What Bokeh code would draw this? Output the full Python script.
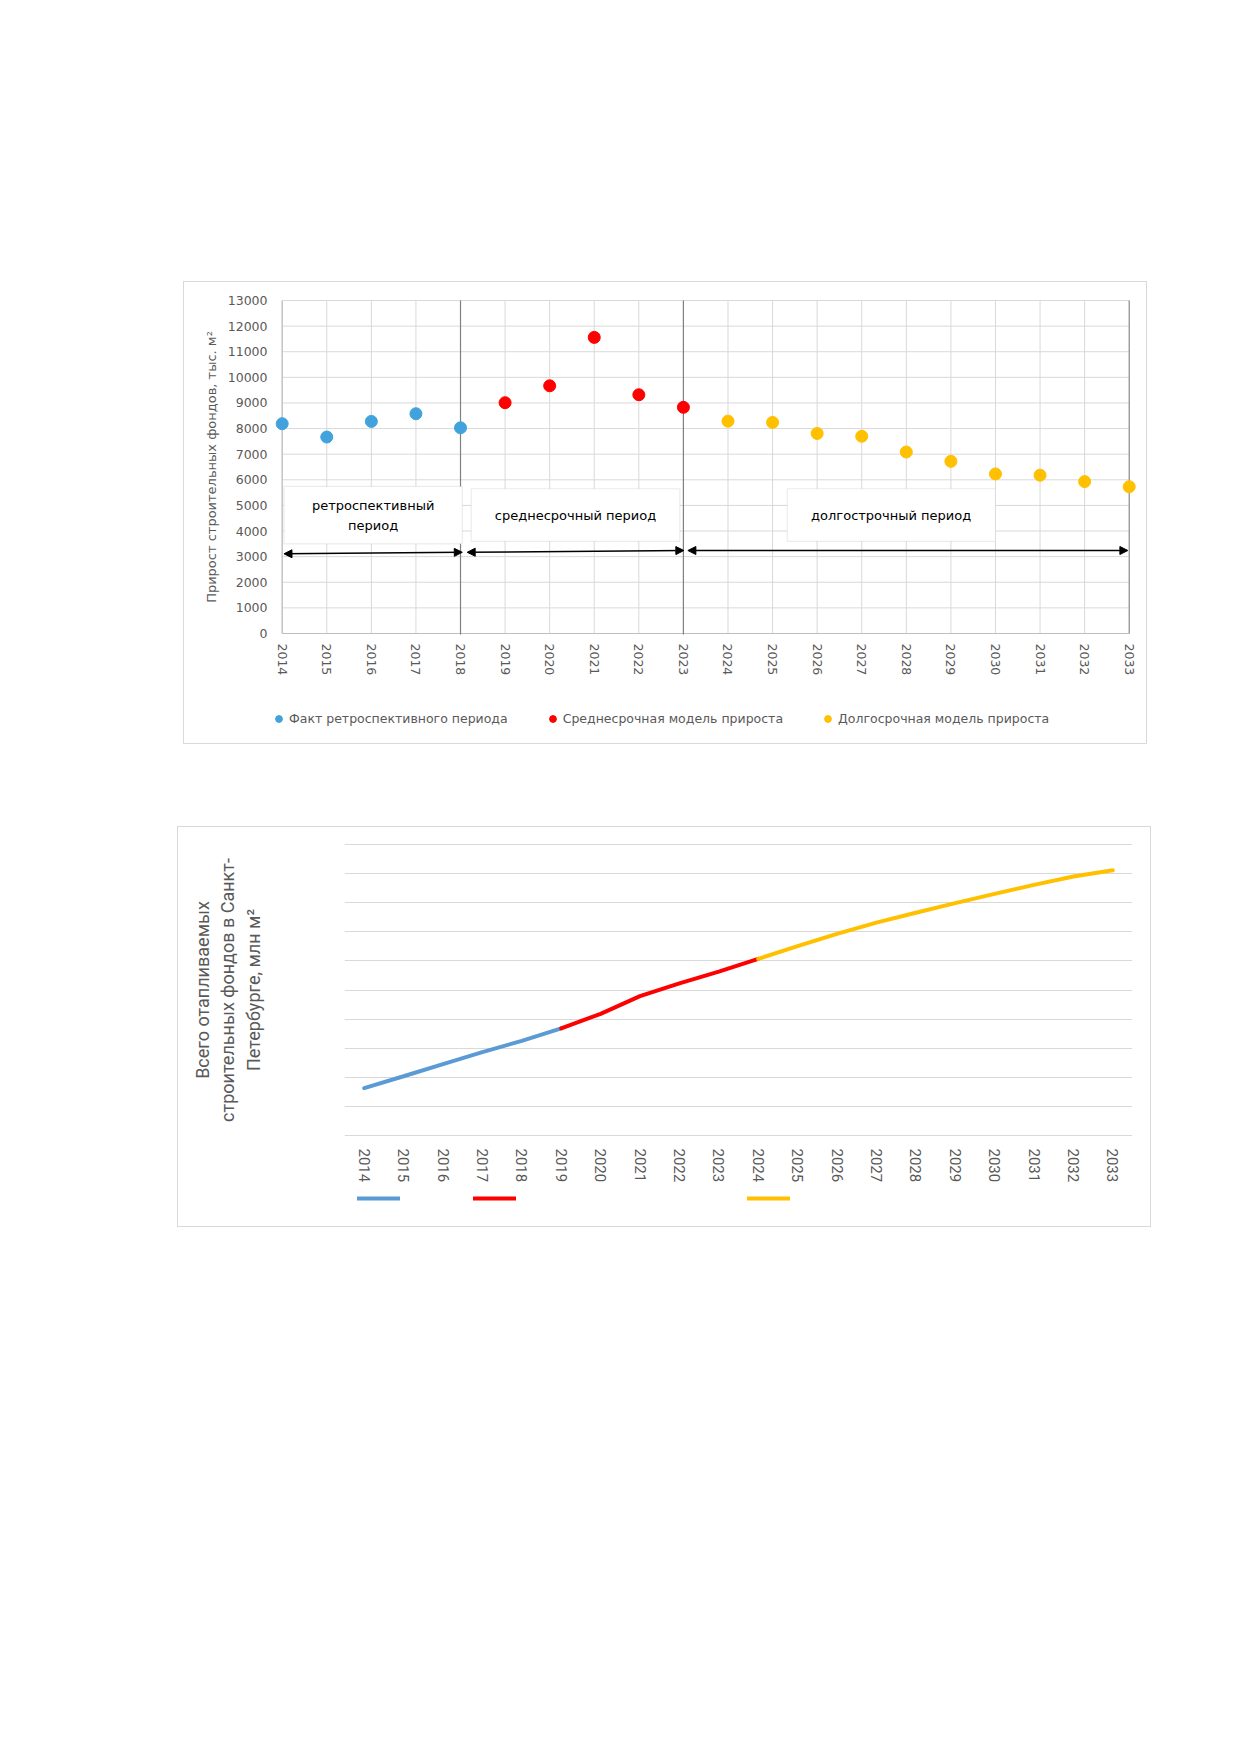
from bokeh.plotting import figure
from bokeh.models import (Range1d, FixedTicker, Legend, LegendItem, BoxAnnotation,
                          Label, Arrow, NormalHead, Spacer, FactorRange)
from bokeh.layouts import column, row
from bokeh.embed import file_html
from bokeh.resources import INLINE
from bokeh.core.properties import value

# ---------------- Chart 1 data ----------------
years_retro = [2014, 2015, 2016, 2017, 2018]
growth_retro = [8190, 7670, 8280, 8580, 8030]
years_mid = [2019, 2020, 2021, 2022, 2023]
growth_mid = [9010, 9670, 11560, 9320, 8830]
years_long = [2024, 2025, 2026, 2027, 2028, 2029, 2030, 2031, 2032, 2033]
growth_long = [8290, 8240, 7810, 7700, 7085, 6720, 6230, 6180, 5930, 5730]
year_ticks = [2014, 2015, 2016, 2017, 2018, 2019, 2020, 2021, 2022, 2023,
              2024, 2025, 2026, 2027, 2028, 2029, 2030, 2031, 2032, 2033]
y_ticks = [0, 1000, 2000, 3000, 4000, 5000, 6000, 7000, 8000, 9000, 10000,
           11000, 12000, 13000]
period_bounds = [2018, 2023]
series_names = ["Факт ретроспективного периода", "Среднесрочная модель прироста",
                "Долгосрочная модель прироста"]
y_title1 = "Прирост строительных фондов, тыс. м²"

# ---------------- Chart 2 data ----------------
cats2 = ["2014", "2015", "2016", "2017", "2018", "2019", "2020", "2021", "2022", "2023",
         "2024", "2025", "2026", "2027", "2028", "2029", "2030", "2031", "2032", "2033"]
years2_retro = ["2014", "2015", "2016", "2017", "2018", "2019"]
total_retro = [1.62, 2.03, 2.45, 2.86, 3.25, 3.68]
years2_mid = ["2019", "2020", "2021", "2022", "2023", "2024"]
total_mid = [3.68, 4.18, 4.79, 5.23, 5.63, 6.07]
years2_long = ["2024", "2025", "2026", "2027", "2028", "2029", "2030", "2031", "2032", "2033"]
total_long = [6.07, 6.51, 6.93, 7.32, 7.66, 7.99, 8.31, 8.62, 8.91, 9.12]
grid2_ticks = [0, 1, 2, 3, 4, 5, 6, 7, 8, 9, 10]
y_title2 = "Всего отапливаемых\nстроительных фондов в Санкт-\nПетербурге, млн м²"

GRAY_TXT = "#595959"
GRID = "#d9d9d9"
F1 = "DejaVu Sans"
F2 = "Roboto"
BOX_STYLE = {"outline": "1px solid #d9d9d9", "outline-offset": "0px"}

COL1 = {"retro": "#41A2DC", "mid": "#FF0000", "long": "#FFC000"}
COL2 = {"retro": "#5B9BD5", "mid": "#FF0000", "long": "#FFC000"}


def legend_strip(width, height):
    f = figure(width=width, height=height, x_range=Range1d(0, width), y_range=Range1d(0, height),
               output_backend="svg", toolbar_location=None,
               min_border_left=0, min_border_right=0, min_border_top=0, min_border_bottom=0)
    f.axis.visible = False
    f.grid.grid_line_color = None
    f.outline_line_color = None
    return f


# ================= Chart 1 =================
p1 = figure(width=962, height=418, x_range=Range1d(2013.693, 2033.298),
            y_range=Range1d(-78, 13078), output_backend="svg", toolbar_location=None,
            min_border_left=84, min_border_right=4, min_border_top=16, min_border_bottom=65)
p1.outline_line_color = None
p1.xgrid.grid_line_color = None
p1.ygrid.grid_line_color = None

# grid lines
p1.segment(x0=year_ticks, y0=0, x1=year_ticks, y1=13000, line_color=GRID, line_width=1)
p1.segment(x0=2014, y0=y_ticks, x1=2033, y1=y_ticks, line_color=GRID, line_width=1)
# axis lines
p1.segment(x0=[2014], y0=[0], x1=[2014], y1=[13000], line_color="#bfbfbf", line_width=1.2)
p1.segment(x0=[2014], y0=[0], x1=[2033], y1=[0], line_color="#bfbfbf", line_width=1.2)
p1.segment(x0=[2033], y0=[0], x1=[2033], y1=[13000], line_color="#808080", line_width=1)
# period separators
p1.segment(x0=period_bounds, y0=-40, x1=period_bounds, y1=13000, line_color="#808080", line_width=1.2)

p1.scatter(years_retro, growth_retro, size=12, color=COL1["retro"])
p1.scatter(years_mid, growth_mid, size=12, color=COL1["mid"])
p1.scatter(years_long, growth_long, size=12, color=COL1["long"])

for ax in (p1.xaxis[0], p1.yaxis[0]):
    ax.axis_line_color = None
    ax.major_tick_line_color = None
    ax.minor_tick_line_color = None
    ax.major_tick_out = 0
    ax.major_tick_in = 0
    ax.major_label_text_color = GRAY_TXT
    ax.major_label_text_font = F1
    ax.major_label_text_font_size = "12.5px"

p1.xaxis.ticker = FixedTicker(ticks=year_ticks)
p1.xaxis.major_label_orientation = "vertical"
p1.xaxis.major_label_standoff = 8
p1.yaxis.ticker = FixedTicker(ticks=y_ticks)
p1.yaxis.major_label_standoff = 1
p1.yaxis.axis_label = y_title1
p1.yaxis.axis_label_text_font = F1
p1.yaxis.axis_label_text_font_size = "13px"
p1.yaxis.axis_label_text_font_style = "normal"
p1.yaxis.axis_label_text_color = GRAY_TXT
p1.yaxis.axis_label_standoff = 6

# period boxes
box_specs = [
    (2014.04, 2018.04, 3500, 5740, "ретроспективный\nпериод", 2016.04),
    (2018.24, 2022.92, 3600, 5650, "среднесрочный период", 2020.58),
    (2025.33, 2030.00, 3600, 5650, "долгострочный период", 2027.66),
]
for l, r, b, t, txt, cx in box_specs:
    p1.add_layout(BoxAnnotation(left=l, right=r, bottom=b, top=t, fill_color="white",
                                fill_alpha=1, line_color="#bfbfbf", line_width=1.2))
    p1.add_layout(Label(x=cx, y=4600, text=txt, text_align="center", text_baseline="middle",
                        text_font=F1, text_font_size="13px", text_color="black",
                        text_line_height=1.3))

arrow_specs = [
    (2014.04, 3110, 2018.04, 3170),
    (2018.15, 3170, 2023.01, 3240),
    (2023.10, 3240, 2032.97, 3240),
]
for xs, ys, xe, ye in arrow_specs:
    p1.add_layout(Arrow(x_start=xs, y_start=ys, x_end=xe, y_end=ye, line_width=1.5,
                        line_color="black",
                        start=NormalHead(size=8, fill_color="black", line_color="black"),
                        end=NormalHead(size=8, fill_color="black", line_color="black")))

# legend strip of chart 1 (series keys; markers drawn outside its visible range)
lf1 = legend_strip(962, 43)
k1 = lf1.scatter(years_retro, growth_retro, size=12, color=COL1["retro"])
k2 = lf1.scatter(years_mid, growth_mid, size=12, color=COL1["mid"])
k3 = lf1.scatter(years_long, growth_long, size=12, color=COL1["long"])
leg1 = Legend(items=[LegendItem(label=series_names[0], renderers=[k1]),
                     LegendItem(label=series_names[1], renderers=[k2]),
                     LegendItem(label=series_names[2], renderers=[k3])],
              orientation="horizontal", location=(2, 16), padding=0, margin=0,
              spacing=36, label_standoff=2, glyph_width=17, glyph_height=17,
              label_height=17, border_line_color=None, background_fill_alpha=0,
              label_text_font=F1, label_text_font_size="12.5px", label_text_color=GRAY_TXT)
lf1.add_layout(leg1)

chart1 = column(p1, lf1, styles=BOX_STYLE)

# ================= Chart 2 =================
p2 = figure(width=972, height=363, x_range=FactorRange(*cats2), y_range=Range1d(-0.079, 10.079),
            output_backend="svg", toolbar_location=None,
            min_border_left=166, min_border_right=18, min_border_top=15, min_border_bottom=53)
p2.outline_line_color = None
p2.xgrid.grid_line_color = None
p2.ygrid.grid_line_color = GRID
p2.ygrid.grid_line_width = 1.2
p2.ygrid.ticker = FixedTicker(ticks=grid2_ticks)

p2.line(years2_retro, total_retro, line_width=4, color=COL2["retro"], line_cap="round")
p2.line(years2_mid, total_mid, line_width=4, color=COL2["mid"], line_cap="round")
p2.line(years2_long, total_long, line_width=4, color=COL2["long"], line_cap="round")

p2.xaxis.axis_line_color = None
p2.xaxis.major_tick_line_color = None
p2.xaxis.minor_tick_line_color = None
p2.xaxis.major_tick_out = 0
p2.xaxis.major_label_orientation = "vertical"
p2.xaxis.major_label_standoff = 11
p2.xaxis.major_label_text_font = F2
p2.xaxis.major_label_text_font_size = "15px"
p2.xaxis.major_label_text_color = GRAY_TXT

p2.yaxis.ticker = FixedTicker(ticks=[])
p2.yaxis.axis_line_color = None
p2.yaxis.major_tick_line_color = None
p2.yaxis.minor_tick_line_color = None
p2.yaxis.major_tick_out = 0
p2.yaxis.major_label_standoff = 0
p2.yaxis.axis_label = y_title2
p2.yaxis.axis_label_text_font = F2
p2.yaxis.axis_label_text_font_size = "18px"
p2.yaxis.axis_label_text_font_style = "normal"
p2.yaxis.axis_label_text_color = GRAY_TXT
p2.yaxis.axis_label_standoff = 81

# legend strip of chart 2 (series keys, no names as in the original)
lf2 = legend_strip(972, 36)
n1 = lf2.line(years2_retro, total_retro, line_width=4, color=COL2["retro"], line_cap="round")
n2 = lf2.line(years2_mid, total_mid, line_width=4, color=COL2["mid"], line_cap="round")
n3 = lf2.line(years2_long, total_long, line_width=4, color=COL2["long"], line_cap="round")
for xloc, rend in ((13, n1), (129, n2), (403, n3)):
    lg = Legend(items=[LegendItem(label=value(""), renderers=[rend])],
                location=(xloc, 24), padding=0, margin=0, spacing=0,
                label_standoff=0, glyph_width=43, glyph_height=8,
                label_width=0, label_height=8,
                border_line_color=None, background_fill_alpha=0,
                label_text_font_size="6px")
    lf2.add_layout(lg)

chart2 = column(p2, lf2, styles=BOX_STYLE)

layout = column(Spacer(height=282),
                row(Spacer(width=184), chart1),
                Spacer(height=84),
                row(Spacer(width=178), chart2))

open("out.html", "w").write(file_html(layout, INLINE))
